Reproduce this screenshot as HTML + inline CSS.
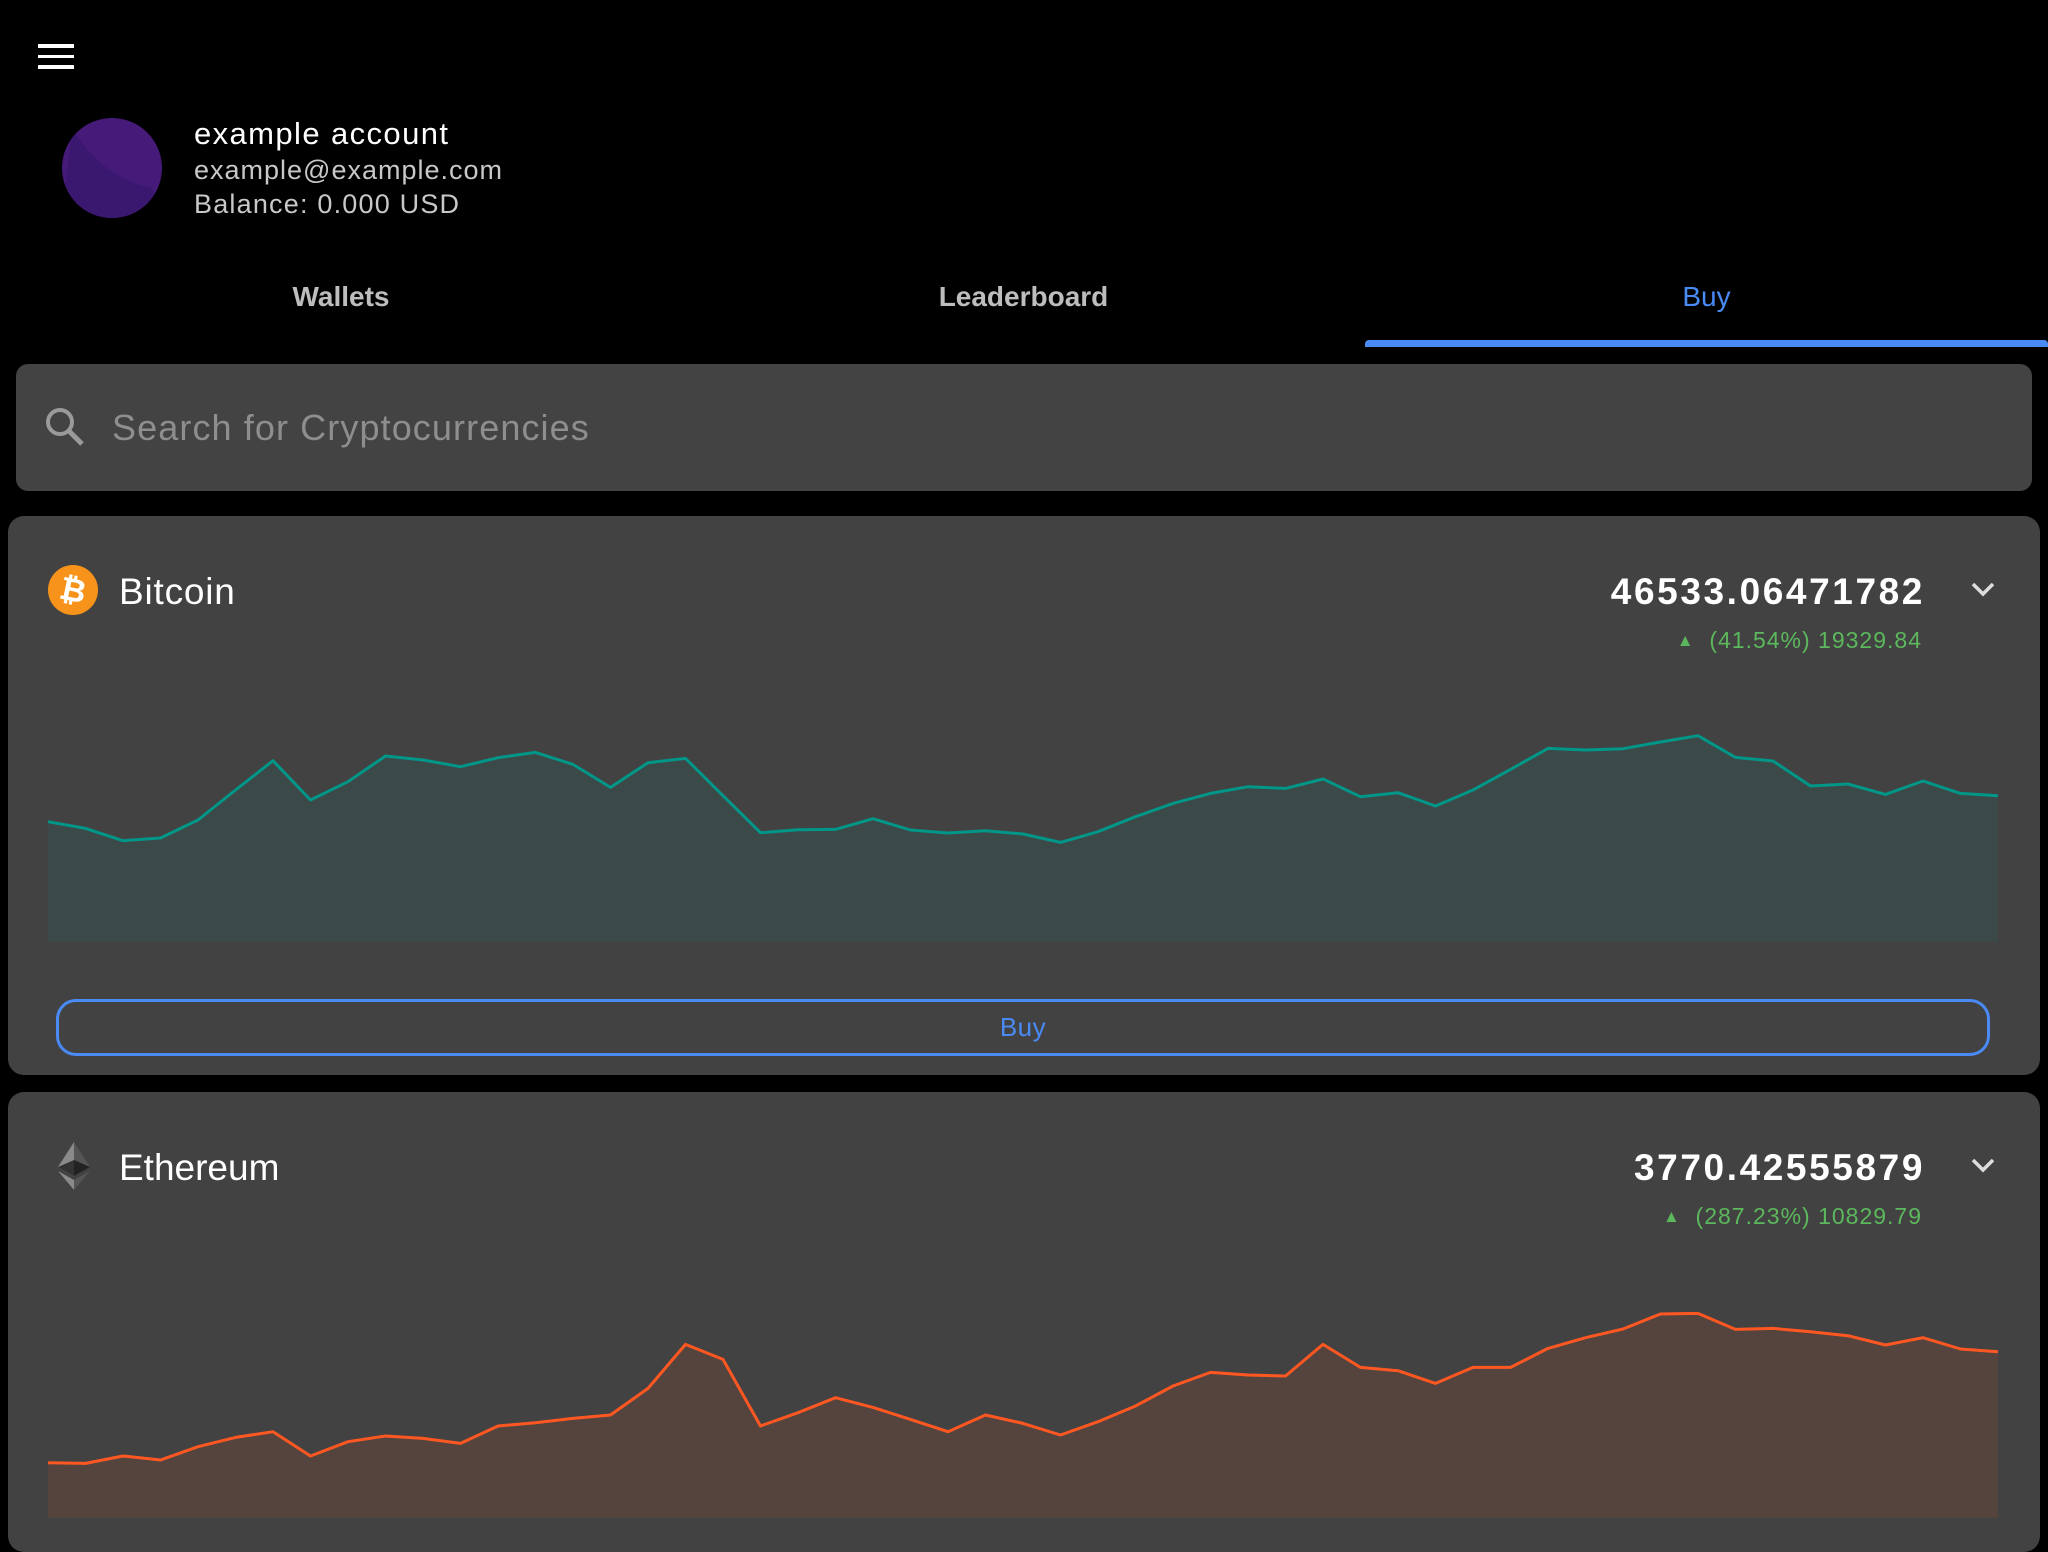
<!DOCTYPE html>
<html><head><meta charset="utf-8">
<style>
html,body{margin:0;padding:0;background:#000;width:2048px;height:1536px;overflow:hidden;font-family:"Liberation Sans",sans-serif;}
.abs{position:absolute;}
</style></head>
<body>
<div class="abs" style="left:38px;top:44px;width:36px;height:26px;">
  <div style="position:absolute;left:0;top:0;width:36px;height:3.5px;background:#fff"></div>
  <div style="position:absolute;left:0;top:10.5px;width:36px;height:3.5px;background:#fff"></div>
  <div style="position:absolute;left:0;top:21px;width:36px;height:3.5px;background:#fff"></div>
</div>
<svg class="abs" style="left:62px;top:118px" width="100" height="100">
  <defs><clipPath id="c"><circle cx="50" cy="50" r="50"/></clipPath></defs>
  <circle cx="50" cy="50" r="50" fill="#461a78"/>
  <path d="M10 10 Q40 60 90 70 L100 100 L0 100 Z" fill="#3a1870" clip-path="url(#c)"/>
</svg>
<div class="abs" style="left:194px;top:116px;font-size:31px;color:#fff;letter-spacing:1.4px">example account</div>
<div class="abs" style="left:194px;top:155px;font-size:27px;color:#c8c8c8;letter-spacing:1px">example@example.com</div>
<div class="abs" style="left:194px;top:189px;font-size:27px;color:#c8c8c8;letter-spacing:1.2px">Balance: 0.000 USD</div>

<div class="abs" style="left:0;top:281px;width:682px;text-align:center;font-size:28px;font-weight:bold;color:#bdbdbd">Wallets</div>
<div class="abs" style="left:682px;top:281px;width:683px;text-align:center;font-size:28px;font-weight:bold;color:#bdbdbd">Leaderboard</div>
<div class="abs" style="left:1365px;top:281px;width:683px;text-align:center;font-size:28px;color:#4a8af4">Buy</div>
<div class="abs" style="left:1365px;top:340px;width:683px;height:7px;background:#4a8af4;border-radius:4px 4px 0 0"></div>

<div class="abs" style="left:16px;top:364px;width:2016px;height:127px;background:#434343;border-radius:12px">
  <svg class="abs" style="left:28px;top:42px" width="44" height="44"><circle cx="16" cy="16" r="12" fill="none" stroke="#9a9a9a" stroke-width="4"/><line x1="25" y1="25" x2="38" y2="38" stroke="#9a9a9a" stroke-width="5"/></svg>
  <div class="abs" style="left:96px;top:43px;font-size:36px;color:#8e8e8e;letter-spacing:1.1px">Search for Cryptocurrencies</div>
</div>

<div class="abs" style="left:8px;top:516px;width:2032px;height:559px;background:#424242;border-radius:16px"></div>
<div class="abs" style="left:8px;top:1092px;width:2032px;height:460px;background:#424242;border-radius:16px"></div>

<svg class="abs" style="left:48px;top:565px" width="50" height="50"><circle cx="25" cy="25" r="25" fill="#f7931a"/><text x="25" y="36" text-anchor="middle" font-size="32" font-weight="bold" fill="#fff" font-family="Liberation Sans" transform="rotate(12 25 25)">₿</text></svg>
<div class="abs" style="left:119px;top:571px;font-size:37px;color:#fff;letter-spacing:0.8px">Bitcoin</div>
<div class="abs" style="right:123px;top:571px;font-size:37px;font-weight:bold;color:#fff;letter-spacing:2.6px">46533.06471782</div>
<svg class="abs" style="left:1970px;top:580px" width="26" height="18"><polyline points="3,4 13,14 23,4" fill="none" stroke="#ddd" stroke-width="3.5"/></svg>
<div class="abs" style="right:126px;top:627px;font-size:23px;color:#5cb85c;letter-spacing:1px"><span style="font-size:17px;position:relative;top:-2px">▲</span>&nbsp;&nbsp;(41.54%) 19329.84</div>

<svg class="abs" style="left:56px;top:1140px" width="36" height="52"><polygon points="18,2 2,27 18,36" fill="#8a8a8a"/><polygon points="18,2 34,27 18,36" fill="#555"/><polygon points="2,31 18,50 18,40" fill="#8a8a8a"/><polygon points="34,31 18,50 18,40" fill="#555"/><polygon points="2,27 18,20 18,36" fill="#333"/><polygon points="34,27 18,20 18,36" fill="#222"/></svg>
<div class="abs" style="left:119px;top:1147px;font-size:37px;color:#fff">Ethereum</div>
<div class="abs" style="right:123px;top:1147px;font-size:37px;font-weight:bold;color:#fff;letter-spacing:2.6px">3770.42555879</div>
<svg class="abs" style="left:1970px;top:1156px" width="26" height="18"><polyline points="3,4 13,14 23,4" fill="none" stroke="#ddd" stroke-width="3.5"/></svg>
<div class="abs" style="right:126px;top:1203px;font-size:23px;color:#5cb85c;letter-spacing:1px"><span style="font-size:17px;position:relative;top:-2px">▲</span>&nbsp;&nbsp;(287.23%) 10829.79</div>

<div class="abs" style="left:56px;top:999px;width:1928px;height:51px;border:3px solid #4a8af4;border-radius:20px;text-align:center;line-height:51px;font-size:26px;color:#4a8af4;letter-spacing:0.5px">Buy</div>

<svg class="abs" id="charts" style="left:0;top:0" width="2048" height="1536"></svg>

<script>
const btcValues=[360,340,303,311,365,455,543,425,480,557,545,525,552,568,532,463,537,550,438,327,336,337,369,335,326,333,323,298,330,375,415,445,465,460,488,435,447,407,455,517,580,575,579,599,618,553,542,467,473,442,482,445,438];
const ethValues=[165,163,185,173,213,241,258,185,228,245,238,223,275,285,298,308,388,520,475,275,315,360,331,295,258,308,283,248,288,335,395,436,428,425,520,451,441,403,451,451,508,540,566,611,613,565,568,558,546,518,540,506,498];
const NS='http://www.w3.org/2000/svg';
const svg=document.getElementById('charts');
function xScale(i,n){return 48+i*(1998-48)/(n-1);}
function drawChart(vals,bottom,scale,lineColor,fillColor,name){
  const n=vals.length;
  const y=v=>bottom-v*scale;
  let pts=vals.map((v,i)=>xScale(i,n).toFixed(1)+','+y(v).toFixed(1));
  const area=document.createElementNS(NS,'polygon');
  area.setAttribute('points',xScale(0,n)+','+bottom+' '+pts.join(' ')+' '+xScale(n-1,n)+','+bottom);
  area.setAttribute('fill',fillColor);
  
  
  svg.appendChild(area);
  const line=document.createElementNS(NS,'polyline');
  line.setAttribute('points',pts.join(' '));
  line.setAttribute('fill','none');
  line.setAttribute('stroke',lineColor);
  line.setAttribute('stroke-width','3');
  line.setAttribute('stroke-linejoin','round');
  
  
  svg.appendChild(line);
}
drawChart(btcValues,941.7,1/3,'#009688','#3b4a49','bitcoin-chart');
drawChart(ethValues,1517.7,1/3,'#ff5722','#54443d','ethereum-chart');
</script>
</body></html>
